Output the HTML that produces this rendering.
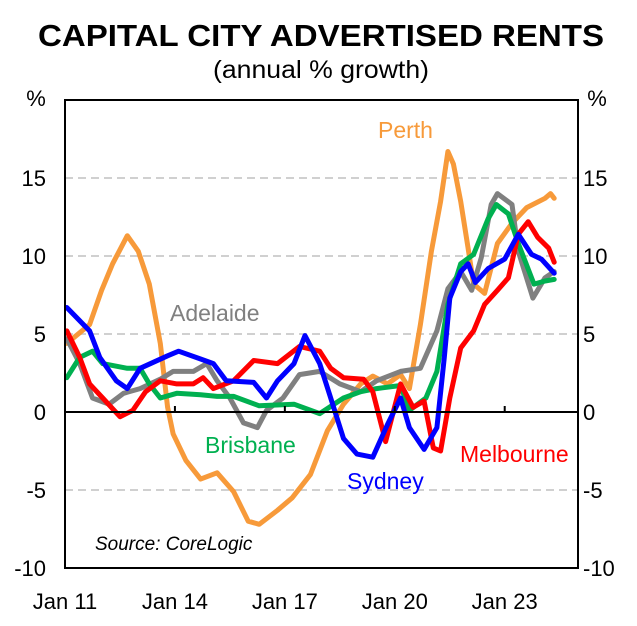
<!DOCTYPE html>
<html><head><meta charset="utf-8"><style>
body{margin:0;background:#fff;}
svg{display:block;font-family:"Liberation Sans",Arial,sans-serif;}
</style></head><body>
<svg id="chart" width="637" height="626" viewBox="0 0 637 626" xmlns="http://www.w3.org/2000/svg">
<text x="321" y="46" text-anchor="middle" font-size="31" font-weight="bold" textLength="566" lengthAdjust="spacingAndGlyphs">CAPITAL CITY ADVERTISED RENTS</text>
<text x="321" y="78" text-anchor="middle" font-size="25" textLength="216" lengthAdjust="spacingAndGlyphs">(annual % growth)</text>
<text x="36" y="106" text-anchor="middle" font-size="22">%</text>
<text x="597" y="106" text-anchor="middle" font-size="22">%</text>
<g id="grid"></g><g id="lines"></g><g id="axes"></g>
<text x="378" y="138" font-size="23" fill="#f79a3a">Perth</text>
<text x="170" y="321" font-size="23" fill="#808080">Adelaide</text>
<text x="205" y="453" font-size="23" fill="#00b050">Brisbane</text>
<text x="347" y="489" font-size="23" fill="#0000ff">Sydney</text>
<text x="460" y="462" font-size="23" fill="#ff0000">Melbourne</text>
<text x="95" y="550" font-size="19" font-style="italic">Source: CoreLogic</text>
</svg>
<script>
const yTicks=[-10,-5,0,5,10,15];
const xTickYears=[2011,2014,2017,2020,2023];
const xTickLabels=["Jan 11","Jan 14","Jan 17","Jan 20","Jan 23"];
const perthT=[2011.05,2011.67,2012.0,2012.3,2012.7,2013.0,2013.3,2013.6,2013.8,2013.95,2014.3,2014.7,2015.15,2015.6,2016.0,2016.3,2016.8,2017.2,2017.7,2018.16,2018.6,2019.07,2019.4,2019.8,2020.16,2020.4,2020.7,2021.0,2021.25,2021.45,2021.6,2021.8,2022.0,2022.15,2022.45,2022.8,2023.2,2023.6,2024.1,2024.25,2024.35];
const perthV=[4.4,5.6,7.8,9.5,11.3,10.3,8.2,4.4,0.3,-1.4,-3.1,-4.3,-3.9,-5.1,-7.0,-7.2,-6.3,-5.5,-4.0,-1.2,0.5,1.8,2.3,1.8,2.4,1.5,5.6,10.3,13.5,16.7,15.9,13.5,10.5,8.2,7.6,10.8,12.1,13.1,13.7,14.0,13.7];
const sydneyT=[2011.05,2011.67,2011.95,2012.4,2012.7,2013.05,2013.8,2014.1,2014.7,2015.05,2015.4,2016.15,2016.5,2016.8,2017.25,2017.55,2017.95,2018.25,2018.6,2018.97,2019.4,2019.8,2020.16,2020.4,2020.8,2021.15,2021.35,2021.5,2021.8,2022.0,2022.2,2022.55,2023.0,2023.37,2023.73,2024.0,2024.35];
const sydneyV=[6.7,5.2,3.5,2.0,1.5,2.8,3.6,3.9,3.4,3.1,2.0,1.9,0.9,2.0,3.1,4.9,3.1,0.9,-1.7,-2.7,-2.9,-0.8,0.9,-1.0,-2.4,-1.0,3.5,7.3,9.0,9.5,8.3,9.2,9.8,11.4,10.1,9.8,8.9];
const melbT=[2011.05,2011.4,2011.67,2012.03,2012.5,2012.85,2013.2,2013.6,2014.05,2014.5,2014.77,2015.05,2015.6,2016.15,2016.8,2017.4,2017.95,2018.25,2018.6,2019.15,2019.4,2019.75,2020.16,2020.5,2020.8,2021.05,2021.25,2021.5,2021.8,2022.15,2022.45,2022.8,2023.1,2023.37,2023.64,2023.9,2024.2,2024.35];
const melbV=[5.2,3.5,1.8,0.9,-0.3,0.1,1.3,2.0,1.8,1.8,2.2,1.5,2.0,3.3,3.1,4.2,3.9,2.8,2.2,2.1,1.3,-1.9,1.8,0.3,0.7,-2.3,-2.5,0.9,4.1,5.2,6.9,7.8,8.6,11.4,12.2,11.2,10.5,9.6];
const brisT=[2011.05,2011.4,2011.75,2012.03,2012.7,2013.05,2013.3,2013.6,2014.05,2014.7,2015.15,2015.6,2016.3,2017.25,2017.95,2018.6,2019.07,2019.5,2020.16,2020.4,2020.85,2021.15,2021.45,2021.8,2022.15,2022.55,2022.77,2023.1,2023.37,2023.8,2024.1,2024.35];
const brisV=[2.2,3.5,3.9,3.1,2.8,2.8,1.8,0.9,1.2,1.1,1.0,1.0,0.4,0.5,-0.1,0.9,1.3,1.5,1.7,0.1,0.9,2.6,6.9,9.5,10.1,12.4,13.3,12.7,10.8,8.2,8.4,8.5];
const adelT=[2011.05,2011.4,2011.75,2012.2,2012.6,2013.05,2013.6,2013.95,2014.5,2014.87,2015.15,2015.5,2015.87,2016.25,2016.5,2016.95,2017.4,2017.95,2018.5,2019.07,2019.5,2020.16,2020.7,2021.15,2021.45,2021.8,2022.1,2022.36,2022.63,2022.8,2023.2,2023.37,2023.77,2024.1,2024.35];
const adelV=[4.7,3.1,0.9,0.5,1.2,1.5,2.1,2.6,2.6,3.1,2.0,0.9,-0.7,-1.0,0.1,0.9,2.4,2.6,1.8,1.3,2.0,2.6,2.8,5.2,7.9,9.0,7.8,9.9,13.3,14.0,13.3,10.3,7.3,8.6,9.0];

const L=65,R=578,T=100,B=568;
const xS=t=>L+(t-2011)*(R-L)/14;
const yS=v=>B-(v+10)*(B-T)/30;
const NS="http://www.w3.org/2000/svg";
function mk(tag,parent,attrs){const e=document.createElementNS(NS,tag);for(const k in attrs)e.setAttribute(k,attrs[k]);parent.appendChild(e);return e;}
const grid=document.getElementById('grid'),lines=document.getElementById('lines'),axes=document.getElementById('axes');
yTicks.forEach(v=>{
  if(v!==0&&v!==-10){const g=mk('line',grid,{x1:L,x2:R,y1:yS(v),y2:yS(v),stroke:'#d0d0d0','stroke-width':2,'stroke-dasharray':'8,5'});
  
  }
  const tl=mk('text',axes,{x:46,y:yS(v)+8,'text-anchor':'end','font-size':22});tl.textContent=v;
  
  
  const tr=mk('text',axes,{x:583,y:yS(v)+8,'text-anchor':'start','font-size':22});tr.textContent=v;
  
  
});
const series=[[perthT,perthV,'#f79a3a','perth'],[adelT,adelV,'#808080','adelaide'],[brisT,brisV,'#00b050','brisbane'],[melbT,melbV,'#ff0000','melbourne'],[sydneyT,sydneyV,'#0000ff','sydney']];
series.forEach(s=>{
  const d=s[0].map((t,i)=>(i?'L':'M')+xS(t).toFixed(1)+','+yS(s[1][i]).toFixed(1)).join('');
  const p=mk('path',lines,{d:d,fill:'none',stroke:s[2],'stroke-width':5,'stroke-linejoin':'round','stroke-linecap':'round'});
  
  
});
const zl=mk('line',axes,{x1:L,x2:R,y1:yS(0),y2:yS(0),stroke:'#000','stroke-width':2});


xTickYears.forEach((yr,i)=>{
  const tk=mk('line',axes,{x1:xS(yr),x2:xS(yr),y1:yS(0),y2:yS(0)-6,stroke:'#000','stroke-width':2});
  
  
  const tx=mk('text',axes,{x:xS(yr),y:609,'text-anchor':'middle','font-size':22});tx.textContent=xTickLabels[i];
  
  
});
const fr=mk('rect',axes,{x:L,y:T,width:R-L,height:B-T,fill:'none',stroke:'#000','stroke-width':2});


</script>
</body></html>
